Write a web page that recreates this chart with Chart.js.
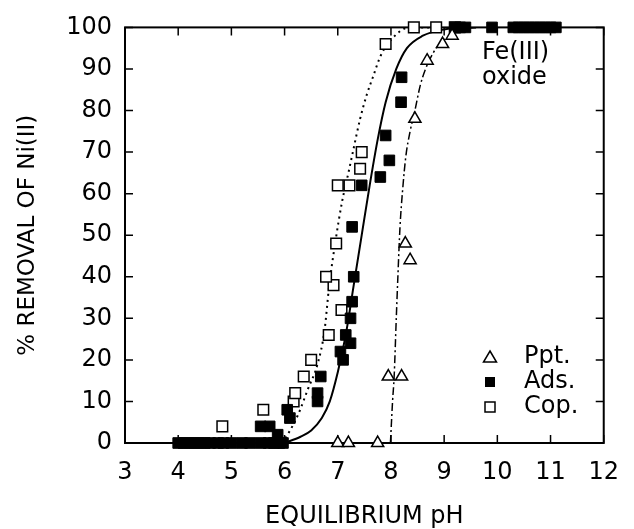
<!DOCTYPE html>
<html><head><meta charset="utf-8">
<script src="https://cdn.jsdelivr.net/npm/chart.js@4/dist/chart.umd.min.js"></script>
<style>html,body{margin:0;padding:0;background:#fff;}</style>
</head><body>
<canvas id="c" width="634" height="529" style="width:634px;height:529px;display:block"></canvas>
<script>
// ---- data ----
const pptPH  = [7.0, 7.2, 7.75, 7.95, 8.2, 8.27, 8.36, 8.45, 8.68, 8.97, 9.15];
const pptPct = [0, 0, 0, 16, 16, 48, 44, 78, 92, 96, 98];

const adsPH  = [4.0, 4.1, 4.2, 4.3, 4.4, 4.5, 4.6, 4.75, 4.85, 5.0, 5.2, 5.35, 5.55, 5.7, 5.8, 5.9, 5.97,
                5.55, 5.72, 5.87, 6.05, 6.1, 6.62, 6.62, 6.68, 7.05, 7.1, 7.15, 7.24, 7.24, 7.27, 7.3, 7.27,
                7.45, 7.8, 7.97, 7.9, 8.19, 8.2, 9.2, 9.3, 9.4, 9.9, 10.3, 10.4, 10.5, 10.6, 10.7, 10.8, 10.9, 11.0, 11.1];
const adsPct = [0, 0, 0, 0, 0, 0, 0, 0, 0, 0, 0, 0, 0, 0, 0, 0, 0,
                4, 4, 2, 8, 6, 10, 12, 16, 22, 20, 26, 24, 30, 34, 40, 52,
                62, 64, 68, 74, 82, 88, 100, 100, 100, 100, 100, 100, 100, 100, 100, 100, 100, 100, 100];

const copPH  = [4.83, 5.6, 6.17, 6.2, 6.36, 6.5, 6.83, 7.07, 6.92, 6.78, 6.97, 7.0, 7.22, 7.42, 7.45, 7.9, 8.43, 8.85, 9.2];
const copPct = [4, 8, 10, 12, 16, 20, 26, 32, 38, 40, 48, 62, 62, 66, 70, 96, 100, 100, 100];

// fitted curves
const adsFitPH  = [6.0, 6.3, 6.5, 6.7, 6.85, 7.0, 7.15, 7.3, 7.45, 7.6, 7.75, 7.9, 8.1, 8.3, 8.6, 9.0, 9.6];
const adsFitPct = [0, 1.5, 3, 6, 10, 17, 26, 38, 50, 62, 73, 82, 90, 95, 98, 99.5, 100];

const copFitPH  = [5.95, 6.08, 6.26, 6.44, 6.62, 6.75, 6.84, 6.95, 7.08, 7.2, 7.3, 7.42, 7.55, 7.66, 7.8, 8.0, 8.35, 9.0];
const copFitPct = [0, 2.5, 7, 13, 19, 27, 38, 48, 58, 65, 71, 78, 84, 88, 93, 97, 100, 100];

const pptFitPH  = [7.99, 8.03, 8.06, 8.1, 8.13, 8.17, 8.22, 8.28, 8.36, 8.45, 8.55, 8.65, 8.8, 8.95, 9.12, 9.4];
const pptFitPct = [0, 10, 16, 30, 40, 52, 61, 69, 75, 80, 86, 90, 94, 96.5, 98, 100];

const xTicks = [3, 4, 5, 6, 7, 8, 9, 10, 11, 12];
const yTicks = [0, 10, 20, 30, 40, 50, 60, 70, 80, 90, 100];
const legendLabels = ['Ppt.', 'Ads.', 'Cop.'];
const noteLines = ['Fe(III)', 'oxide'];

const pts = (xs, ys) => xs.map((x, i) => ({x: x, y: ys[i]}));
const FONT = 'DejaVu Sans';

const framePlugin = {
  id: 'frame',
  beforeDatasetsDraw(chart) {
    const {ctx, chartArea: a, scales} = chart;
    ctx.save();
    ctx.strokeStyle = '#000';
    ctx.lineWidth = 2;
    ctx.strokeRect(a.left, a.top, a.right - a.left, a.bottom - a.top);
    ctx.lineWidth = 1.5;
    const tl = 8;
    ctx.beginPath();
    xTicks.forEach(v => {
      const px = scales.x.getPixelForValue(v);
      ctx.moveTo(px, a.bottom); ctx.lineTo(px, a.bottom - tl);
      ctx.moveTo(px, a.top); ctx.lineTo(px, a.top + tl);
    });
    yTicks.forEach(v => {
      const py = scales.y.getPixelForValue(v);
      ctx.moveTo(a.left, py); ctx.lineTo(a.left + tl, py);
      ctx.moveTo(a.right, py); ctx.lineTo(a.right - tl, py);
    });
    ctx.stroke();
    ctx.restore();
  },
  afterDraw(chart) {
    const {ctx} = chart;
    ctx.save();
    ctx.fillStyle = '#000';
    ctx.font = '24px "' + FONT + '"';
    ctx.textAlign = 'left';
    ctx.textBaseline = 'alphabetic';
    ctx.fillText(noteLines[0], 482, 59);
    ctx.fillText(noteLines[1], 482, 84);
    ctx.textBaseline = 'middle';
    // legend
    const lx = 490, ys = [357, 382, 407];
    ctx.strokeStyle = '#000';
    ctx.lineWidth = 1.5;
    ctx.beginPath();
    ctx.moveTo(lx, ys[0] - 6); ctx.lineTo(lx + 6.5, ys[0] + 5); ctx.lineTo(lx - 6.5, ys[0] + 5); ctx.closePath();
    ctx.fillStyle = '#fff'; ctx.fill(); ctx.stroke();
    ctx.fillStyle = '#000';
    ctx.fillRect(lx - 5, ys[1] - 5, 10, 10);
    ctx.fillStyle = '#fff';
    ctx.fillRect(lx - 5, ys[2] - 5, 10, 10);
    ctx.strokeRect(lx - 5, ys[2] - 5, 10, 10);
    ctx.fillStyle = '#000';
    legendLabels.forEach((t, i) => ctx.fillText(t, 524, ys[i]));
    ctx.restore();
  }
};

new Chart(document.getElementById('c'), {
  type: 'scatter',
  data: {
    datasets: [
      {label: 'Ppt.', data: pts(pptPH, pptPct), pointStyle: 'triangle', pointRadius: 7,
       backgroundColor: '#fff', borderColor: '#000', borderWidth: 1.5, order: 0, clip: false},
      {label: 'Ads.', data: pts(adsPH, adsPct), pointStyle: 'rect', pointRadius: 7.5,
       backgroundColor: '#000', borderColor: '#000', borderWidth: 1, order: 0, clip: false},
      {label: 'Cop.', data: pts(copPH, copPct), pointStyle: 'rect', pointRadius: 7.5,
       backgroundColor: '#fff', borderColor: '#000', borderWidth: 1.5, order: 0, clip: false},
      {label: 'Ads. fit', data: pts(adsFitPH, adsFitPct), showLine: true, pointRadius: 0,
       borderColor: '#000', borderWidth: 2, cubicInterpolationMode: 'monotone', order: 1},
      {label: 'Cop. fit', data: pts(copFitPH, copFitPct), showLine: true, pointRadius: 0,
       borderColor: '#000', borderWidth: 2, borderDash: [2, 4], cubicInterpolationMode: 'monotone', order: 1},
      {label: 'Ppt. fit', data: pts(pptFitPH, pptFitPct), showLine: true, pointRadius: 0,
       borderColor: '#000', borderWidth: 1.5, borderDash: [8, 3, 2, 3], cubicInterpolationMode: 'monotone', order: 1}
    ]
  },
  options: {
    responsive: false,
    devicePixelRatio: 1,
    animation: false,
    layout: {padding: {left: 4, right: 17, top: 15, bottom: 0}},
    plugins: {legend: {display: false}, tooltip: {enabled: false}},
    scales: {
      x: {
        type: 'linear', min: 3, max: 12,
        afterBuildTicks: s => { s.ticks = xTicks.map(v => ({value: v})); },
        afterFit: s => { s.height = 86; },
        grid: {display: false, drawTicks: false},
        border: {display: false},
        ticks: {color: '#000', font: {family: FONT, size: 24}, padding: 15, maxRotation: 0, autoSkip: false},
        title: {display: true, text: 'EQUILIBRIUM pH', color: '#000',
                font: {family: FONT, size: 24, lineHeight: 1}, padding: {top: 0, bottom: 0}}
      },
      y: {
        type: 'linear', min: 0, max: 100,
        afterBuildTicks: s => { s.ticks = yTicks.map(v => ({value: v})); },
        afterFit: s => { s.width = 121; },
        grid: {display: false, drawTicks: false},
        border: {display: false},
        ticks: {color: '#000', font: {family: FONT, size: 24}, padding: 13, autoSkip: false},
        title: {display: true, text: '% REMOVAL OF Ni(II)', color: '#000',
                font: {family: FONT, size: 23, lineHeight: 1.2}, padding: {top: 10, bottom: 0}}
      }
    }
  },
  plugins: [framePlugin]
});
</script>
</body></html>
